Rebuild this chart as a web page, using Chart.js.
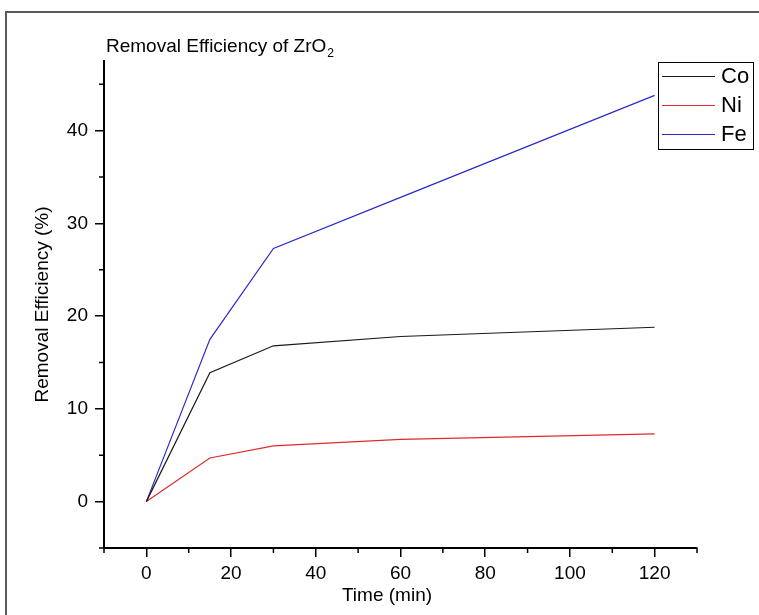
<!DOCTYPE html>
<html>
<head>
<meta charset="utf-8">
<title>Removal Efficiency of ZrO2</title>
<script src="https://cdn.jsdelivr.net/npm/chart.js@4"></script>
<style>
  body { margin: 0; background: #fff; }
  canvas { display: block; }
</style>
</head>
<body>
<canvas id="chart" width="759" height="615"></canvas>
<script>
// dados
const times = [0, 15, 30, 60, 120];
const coValues = [0, 13.9, 16.8, 17.8, 18.8];
const niValues = [0, 4.7, 6.0, 6.7, 7.3];
const feValues = [0, 17.5, 27.3, 32.8, 43.8];
const seriesNames = ['Co', 'Ni', 'Fe'];
const seriesColors = ['#1a1a1a', '#e02a2a', '#2b2bc8'];

const xMajor = [0, 20, 40, 60, 80, 100, 120];
const xMinor = [-10, 10, 30, 50, 70, 90, 110, 130];
const yMajor = [0, 10, 20, 30, 40];
const yMinor = [-5, 5, 15, 25, 35, 45];

const FONT = '"Liberation Sans", Arial, sans-serif';

function toPoints(values) {
  return values.map((v, i) => ({ x: times[i], y: v }));
}

// moldura, título com subscrito, ticks menores, título do eixo x e legenda
const extras = {
  id: 'extras',
  beforeDraw(chart) {
    const ctx = chart.ctx;
    ctx.save();
    ctx.strokeStyle = '#5a5a5a';
    ctx.lineWidth = 2;
    ctx.beginPath();
    ctx.moveTo(6, 615);
    ctx.lineTo(6, 12);
    ctx.lineTo(759, 12);
    ctx.stroke();
    ctx.restore();
  },
  afterDraw(chart) {
    const ctx = chart.ctx;
    const xs = chart.scales.x, ys = chart.scales.y;
    ctx.save();

    // ticks menores
    ctx.strokeStyle = '#000';
    ctx.lineWidth = 1.5;
    ctx.beginPath();
    xMinor.forEach(v => {
      const px = xs.getPixelForValue(v);
      ctx.moveTo(px, xs.top);
      ctx.lineTo(px, xs.top + 5);
    });
    yMinor.forEach(v => {
      const py = ys.getPixelForValue(v);
      ctx.moveTo(ys.right, py);
      ctx.lineTo(ys.right - 5, py);
    });
    ctx.stroke();

    // título
    ctx.fillStyle = '#000';
    ctx.textBaseline = 'alphabetic';
    ctx.textAlign = 'left';
    ctx.font = '19px ' + FONT;
    const main = 'Removal Efficiency of ZrO';
    ctx.fillText(main, 106, 52);
    const w = ctx.measureText(main).width;
    ctx.font = '12px ' + FONT;
    ctx.fillText('2', 106 + w + 1, 57);

    // título do eixo x (um pouco à esquerda do centro, como no original)
    ctx.font = '19px ' + FONT;
    ctx.textAlign = 'center';
    ctx.textBaseline = 'middle';
    ctx.fillText('Time (min)', 387, 596);

    // legenda
    const bx = 658, by = 62, bw = 95, bh = 87;
    ctx.fillStyle = '#fff';
    ctx.fillRect(bx, by, bw, bh);
    ctx.strokeStyle = '#000';
    ctx.lineWidth = 1;
    ctx.strokeRect(bx + 0.5, by + 0.5, bw, bh);
    ctx.font = '22px ' + FONT;
    ctx.textAlign = 'left';
    ctx.textBaseline = 'middle';
    chart.data.datasets.forEach((ds, i) => {
      const ry = 76 + i * 29;
      ctx.strokeStyle = ds.borderColor;
      ctx.lineWidth = 1.2;
      ctx.beginPath();
      ctx.moveTo(662, ry + 0.5);
      ctx.lineTo(715, ry + 0.5);
      ctx.stroke();
      ctx.fillStyle = '#000';
      ctx.fillText(ds.label, 721, ry + 1);
    });
    ctx.restore();
  }
};

const datasets = [coValues, niValues, feValues].map((vals, i) => ({
  label: seriesNames[i],
  data: toPoints(vals),
  borderColor: seriesColors[i],
  backgroundColor: seriesColors[i],
  borderWidth: 1.2,
  pointRadius: 0,
  tension: 0,
  fill: false
}));

new Chart(document.getElementById('chart'), {
  type: 'line',
  data: { datasets },
  options: {
    responsive: false,
    animation: false,
    layout: { padding: { left: 0, top: 61, right: 62, bottom: 0 } },
    plugins: {
      legend: { display: false },
      tooltip: { enabled: false }
    },
    scales: {
      x: {
        type: 'linear',
        min: -10,
        max: 130,
        afterBuildTicks: s => { s.ticks = xMajor.map(v => ({ value: v })); },
        afterFit: s => { s.height = 67; },
        border: { display: true, color: '#000', width: 2 },
        grid: { drawOnChartArea: false, color: '#000', lineWidth: 1.5, tickLength: 9 },
        ticks: { color: '#000', padding: 5, maxRotation: 0, font: { family: FONT, size: 19 } },
        title: { display: false }
      },
      y: {
        type: 'linear',
        min: -5,
        max: 47.5,
        afterBuildTicks: s => { s.ticks = yMajor.map(v => ({ value: v })); },
        afterFit: s => { s.width = 104; },
        border: { display: true, color: '#000', width: 2 },
        grid: { drawOnChartArea: false, color: '#000', lineWidth: 1.5, tickLength: 9 },
        ticks: { color: '#000', padding: 7, font: { family: FONT, size: 19 } },
        title: {
          display: true, text: 'Removal Efficiency (%)', color: '#000',
          font: { family: FONT, size: 19 }, padding: { top: 31, bottom: 0 }
        }
      }
    }
  },
  plugins: [extras]
});
</script>
</body>
</html>
